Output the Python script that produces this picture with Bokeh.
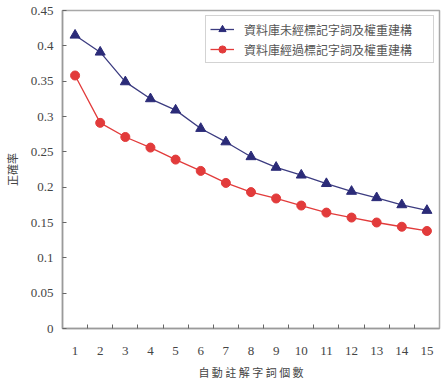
from bokeh.plotting import figure
from bokeh.models import Range1d, FixedTicker, Legend, LegendItem, ColumnDataSource
from bokeh.embed import file_html
from bokeh.resources import INLINE

x_values = list(range(1, 16))
series_untagged = [0.415, 0.391, 0.349, 0.325, 0.309, 0.283, 0.264, 0.243, 0.228,
                   0.217, 0.205, 0.194, 0.185, 0.175, 0.167]
series_tagged = [0.358, 0.291, 0.271, 0.256, 0.239, 0.223, 0.206, 0.193, 0.184,
                 0.174, 0.164, 0.157, 0.150, 0.144, 0.138]
name_untagged = "資料庫未經標記字詞及權重建構"
name_tagged = "資料庫經過標記字詞及權重建構"
y_ticks = [0, 0.05, 0.1, 0.15, 0.2, 0.25, 0.3, 0.35, 0.4, 0.45]
y_tick_labels = ["0", "0.05", "0.1", "0.15", "0.2", "0.25", "0.3", "0.35", "0.4", "0.45"]
x_label = "自 動 註 解 字 詞 個 數"
y_label = "正確率"

src = ColumnDataSource(dict(x=x_values, a=series_untagged, b=series_tagged))

p = figure(width=443, height=382, output_backend="svg", toolbar_location=None,
           x_range=Range1d(0.5, 15.5), y_range=Range1d(0, 0.45),
           min_border_left=57, min_border_right=4, min_border_top=10, min_border_bottom=52)
p.background_fill_color = "white"
p.border_fill_color = "white"
p.xgrid.visible = False
p.ygrid.visible = False
p.outline_line_color = "#a8a8a8"
p.outline_line_width = 1.5

BLUE = "#2b2b78"
RED = "#e23b3b"
l1 = p.line("x", "a", source=src, line_color="#3c3c80", line_width=1.3)
m1 = p.scatter("x", "a", source=src, marker="triangle", size=10, fill_color=BLUE, line_color=BLUE)
l2 = p.line("x", "b", source=src, line_color=RED, line_width=1.3)
m2 = p.scatter("x", "b", source=src, marker="circle", size=9, fill_color=RED, line_color=RED)

serif = "Liberation Serif"
cjk = "Noto Sans CJK TC"
axcol = "#9a9a9a"

xa = p.xaxis[0]
xa.ticker = FixedTicker(ticks=x_values, minor_ticks=[v + 0.5 for v in x_values[:-1]])
xa.major_tick_line_color = None
xa.minor_tick_in = 4
xa.minor_tick_out = 0
xa.minor_tick_line_color = "#666666"
xa.axis_line_color = axcol
xa.axis_line_width = 1.5
xa.major_label_text_font = serif
xa.major_label_text_font_size = "13px"
xa.major_label_text_color = "#444444"
xa.major_label_standoff = 12
xa.axis_label = x_label
xa.axis_label_text_font = cjk
xa.axis_label_text_font_size = "11px"
xa.axis_label_text_font_style = "normal"
xa.axis_label_text_color = "#444444"
xa.axis_label_standoff = 6

ya = p.yaxis[0]
ya.ticker = FixedTicker(ticks=y_ticks)
ya.major_label_overrides = {t: s for t, s in zip(y_ticks, y_tick_labels)}
ya.major_tick_in = 4
ya.major_tick_out = 0
ya.major_tick_line_color = "#666666"
ya.minor_tick_line_color = None
ya.axis_line_color = axcol
ya.axis_line_width = 1.5
ya.major_label_text_font = serif
ya.major_label_text_font_size = "13px"
ya.major_label_text_color = "#444444"
ya.major_label_standoff = 9
ya.axis_label = y_label
ya.axis_label_text_font = cjk
ya.axis_label_text_font_size = "11px"
ya.axis_label_text_font_style = "normal"
ya.axis_label_text_color = "#444444"
ya.axis_label_standoff = 8

legend = Legend(items=[LegendItem(label=name_untagged, renderers=[l1, m1]),
                       LegendItem(label=name_tagged, renderers=[l2, m2])],
                location="top_right")
legend.label_text_font = cjk
legend.label_text_font_size = "12px"
legend.label_text_color = "#555555"
legend.border_line_color = "#a8a8a8"
legend.border_line_width = 1.5
legend.margin = 5
legend.padding = 4
legend.spacing = 2
legend.glyph_width = 24
legend.glyph_height = 18
legend.label_height = 18
legend.label_width = 185
legend.label_standoff = 10
legend.background_fill_alpha = 1
p.add_layout(legend)

open("out.html", "w").write(file_html(p, INLINE))
